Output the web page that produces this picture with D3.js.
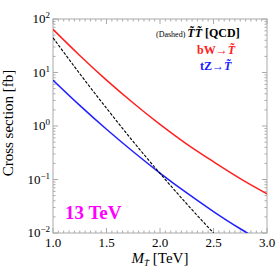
<html>
<style>
body { margin: 0; background: #fff; }
text { font-family: "Liberation Serif", "Times New Roman", serif; }
.frame { fill: none; stroke: #aaa; stroke-width: 1px; }
.tick { stroke: #aaa; stroke-width: 1px; }
</style>
<svg width="278" height="276"></svg>
<script src="https://d3js.org/d3.v7.min.js"></script>
<script>

// masses in TeV
var mass = [1.0, 1.25, 1.5, 1.75, 2.0, 2.25, 2.5, 2.75, 3.0];
// cross sections [fb]
var bW  = [64, 20.8, 7.2, 2.69, 1.07, 0.46, 0.215, 0.104, 0.054];
var tZ  = [7.2, 2.43, 0.87, 0.33, 0.132, 0.056, 0.0252, 0.012, 0.0061];
var qcd = [44.7, 9.5, 2.15, 0.51, 0.13, 0.035, 0.01, null, null];

var xTicks = [1.0, 1.5, 2.0, 2.5, 3.0];
var yTicks = [-2, -1, 0, 1, 2];

var svg = d3.select("svg"),
    margin = {top: 19, right: 11, bottom: 43, left: 53},
    width = 278 - margin.left - margin.right,
    height = 276 - margin.top - margin.bottom,
    g = svg.append("g").attr("transform", "translate(" + margin.left + "," + margin.top + ")");

var x = d3.scaleLinear().domain([1, 3]).range([0, width]);
var y = d3.scaleLog().domain([0.01, 100]).range([height, 0]);

g.append("clipPath").attr("id", "clip")
  .append("rect").attr("width", width).attr("height", height);

// ticks, all four sides, pointing in
var xMinor = d3.range(1, 3.0001, 0.05);
xMinor.forEach(function(v) {
  var major = Math.abs(v * 2 - Math.round(v * 2)) < 1e-6;
  var len = major ? 5 : 2.5;
  g.append("line").attr("class", "tick")
    .attr("x1", x(v)).attr("x2", x(v)).attr("y1", height).attr("y2", height - len);
  g.append("line").attr("class", "tick")
    .attr("x1", x(v)).attr("x2", x(v)).attr("y1", 0).attr("y2", len);
});
var yMinor = [];
for (var e = -2; e < 2; e++) for (var m = 1; m < 10; m++) yMinor.push(m * Math.pow(10, e));
yMinor.push(100);
yMinor.forEach(function(v) {
  var lg = Math.log10(v);
  var major = Math.abs(lg - Math.round(lg)) < 1e-6;
  var len = major ? 5 : 2.5;
  g.append("line").attr("class", "tick")
    .attr("x1", 0).attr("x2", len).attr("y1", y(v)).attr("y2", y(v));
  g.append("line").attr("class", "tick")
    .attr("x1", width).attr("x2", width - len).attr("y1", y(v)).attr("y2", y(v));
});

g.append("rect").attr("class", "frame").attr("width", width).attr("height", height);

// tick labels
g.selectAll(".xl").data(xTicks).enter().append("text")
  .attr("x", function(d) { return x(d); })
  .attr("y", height + 14)
  .attr("text-anchor", "middle")
  .attr("font-size", 13)
  .text(function(d) { return d.toFixed(1); });

var yl = g.selectAll(".yl").data(yTicks).enter().append("text")
  .attr("x", -3)
  .attr("y", function(d) { return y(Math.pow(10, d)) + 4; })
  .attr("text-anchor", "end")
  .attr("font-size", 13);
yl.append("tspan").text("10");
yl.append("tspan").attr("dy", -5).attr("font-size", 9)
  .text(function(d) { return d < 0 ? "\u2212" + (-d) : d; });

// curves
var line = d3.line()
  .defined(function(d) { return d[1] != null; })
  .x(function(d) { return x(d[0]); })
  .y(function(d) { return y(d[1]); })
  .curve(d3.curveNatural);

var plot = g.append("g").attr("clip-path", "url(#clip)");
plot.append("path").datum(d3.zip(mass, bW)).attr("d", line)
  .attr("fill", "none").attr("stroke", "#ff2020").attr("stroke-width", 1.5);
plot.append("path").datum(d3.zip(mass, tZ)).attr("d", line)
  .attr("fill", "none").attr("stroke", "#2020ff").attr("stroke-width", 1.5);
plot.append("path").datum(d3.zip(mass, qcd)).attr("d", line)
  .attr("fill", "none").attr("stroke", "#000").attr("stroke-width", 1.1)
  .attr("stroke-dasharray", "3,1.5");

// legend texts
var t1 = svg.append("text").attr("x", 156).attr("y", 37);
t1.append("tspan").attr("font-size", 8).text("(Dashed) ");
t1.append("tspan").attr("font-size", 12).attr("font-weight", "bold").attr("font-style", "italic").text("T\u0303T\u0303");
t1.append("tspan").attr("font-size", 12).attr("font-weight", "bold").text(" [QCD]");

var t2 = svg.append("text").attr("x", 197).attr("y", 54).attr("fill", "#ff2020")
  .attr("font-size", 12).attr("font-weight", "bold");
t2.append("tspan").text("bW\u2192");
t2.append("tspan").attr("font-style", "italic").text("T\u0303");

var t3 = svg.append("text").attr("x", 200).attr("y", 70).attr("fill", "#2020ff")
  .attr("font-size", 12).attr("font-weight", "bold");
t3.append("tspan").text("tZ\u2192");
t3.append("tspan").attr("font-style", "italic").text("T\u0303");

svg.append("text").attr("x", 65).attr("y", 219).attr("fill", "#ff00ff")
  .attr("font-size", 19).attr("font-weight", "bold").text("13 TeV");

// axis titles
var xt = svg.append("text").attr("x", 160).attr("y", 263).attr("text-anchor", "middle")
  .attr("font-size", 15);
xt.append("tspan").attr("font-style", "italic").text("M");
xt.append("tspan").attr("font-style", "italic").attr("font-size", 9).attr("dy", 3).text("T\u0303");
xt.append("tspan").attr("dy", -3).text(" [TeV]");

svg.append("text")
  .attr("transform", "translate(13,123) rotate(-90)")
  .attr("text-anchor", "middle")
  .attr("font-size", 15)
  .text("Cross section [fb]");

</script>
</html>
